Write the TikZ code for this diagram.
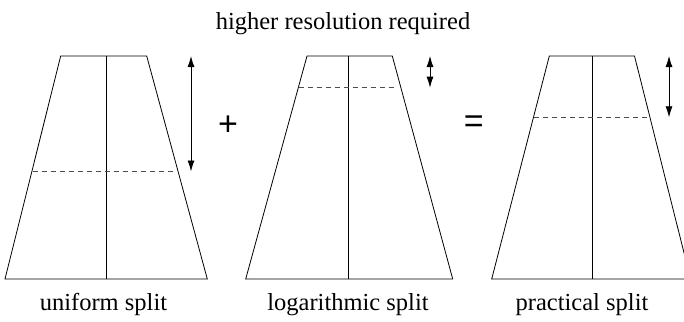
\documentclass[tikz,border=0pt]{standalone}
\usepackage{fontspec}
\setmainfont{Liberation Serif}
\newfontfamily\symfont{Liberation Sans}
\usetikzlibrary{arrows.meta}
\tikzset{
  edge/.style={line width=0.8pt, black},
  mid/.style={line width=0.8pt, black},
  splitline/.style={line width=0.8pt, black!70, dash pattern=on 5pt off 4pt},
  dim/.style={line width=0.8pt, black, {Latex[length=11pt,width=7pt]}-{Latex[length=11pt,width=7pt]}},
  lbl/.style={inner sep=0pt, anchor=base, font=\fontsize{24.5}{28}\selectfont},
  op/.style={inner sep=0pt, font=\symfont\fontsize{34}{36}\selectfont}
}
\begin{document}
\begin{tikzpicture}[x=1pt,y=-1pt]
\useasboundingbox (0,0) rectangle (684,321);
\clip (0,0) rectangle (684,321);
% title
\node[lbl] (title) at (343,30) {higher resolution required};
% trapezoid 1
\coordinate (a1) at (60.7,56); \coordinate (b1) at (146.7,56);
\coordinate (c1) at (207.3,279); \coordinate (d1) at (5,279);
\draw[edge] (a1) -- (b1) -- (c1) -- (d1) -- cycle;
\coordinate (m1t) at (106,56); \coordinate (m1b) at (106,279);
\draw[mid] (m1t) -- (m1b);
\coordinate (s1l) at (32.7,171.7); \coordinate (s1r) at (175.7,171.7);
\draw[splitline] (s1l) -- (s1r);
\coordinate (r1t) at (191,56); \coordinate (r1b) at (191,171.5);
\draw[dim] (r1t) -- (r1b);
\node[lbl] (l1) at (103.5,310) {uniform split};
% plus
\node[op] (plus) at (228,125.7) {+};
% trapezoid 2
\coordinate (a2) at (307,56); \coordinate (b2) at (392.3,56);
\coordinate (c2) at (452.7,279); \coordinate (d2) at (245.7,279);
\draw[edge] (a2) -- (b2) -- (c2) -- (d2) -- cycle;
\coordinate (m2t) at (348.3,56); \coordinate (m2b) at (348.3,279);
\draw[mid] (m2t) -- (m2b);
\coordinate (s2l) at (298.7,87.3); \coordinate (s2r) at (396.7,87.3);
\draw[splitline] (s2l) -- (s2r);
\coordinate (r2t) at (430,56); \coordinate (r2b) at (430,87.7);
\draw[dim] (r2t) -- (r2b);
\node[lbl] (l2) at (348,310) {logarithmic split};
% equals
\node[op] (eq) at (473.7,124.5) {=};
% trapezoid 3
\coordinate (a3) at (549.3,56); \coordinate (b3) at (634.5,56);
\coordinate (c3) at (690.6,279); \coordinate (d3) at (491.7,279);
\draw[edge] (a3) -- (b3) -- (c3) -- (d3) -- cycle;
\coordinate (m3t) at (592,56); \coordinate (m3b) at (592,279);
\draw[mid] (m3t) -- (m3b);
\coordinate (s3l) at (534,117.7); \coordinate (s3r) at (650,117.7);
\draw[splitline] (s3l) -- (s3r);
\coordinate (r3t) at (669,56); \coordinate (r3b) at (669,117.3);
\draw[dim] (r3t) -- (r3b);
\node[lbl] (l3) at (582,310) {practical split};
\end{tikzpicture}
\end{document}
